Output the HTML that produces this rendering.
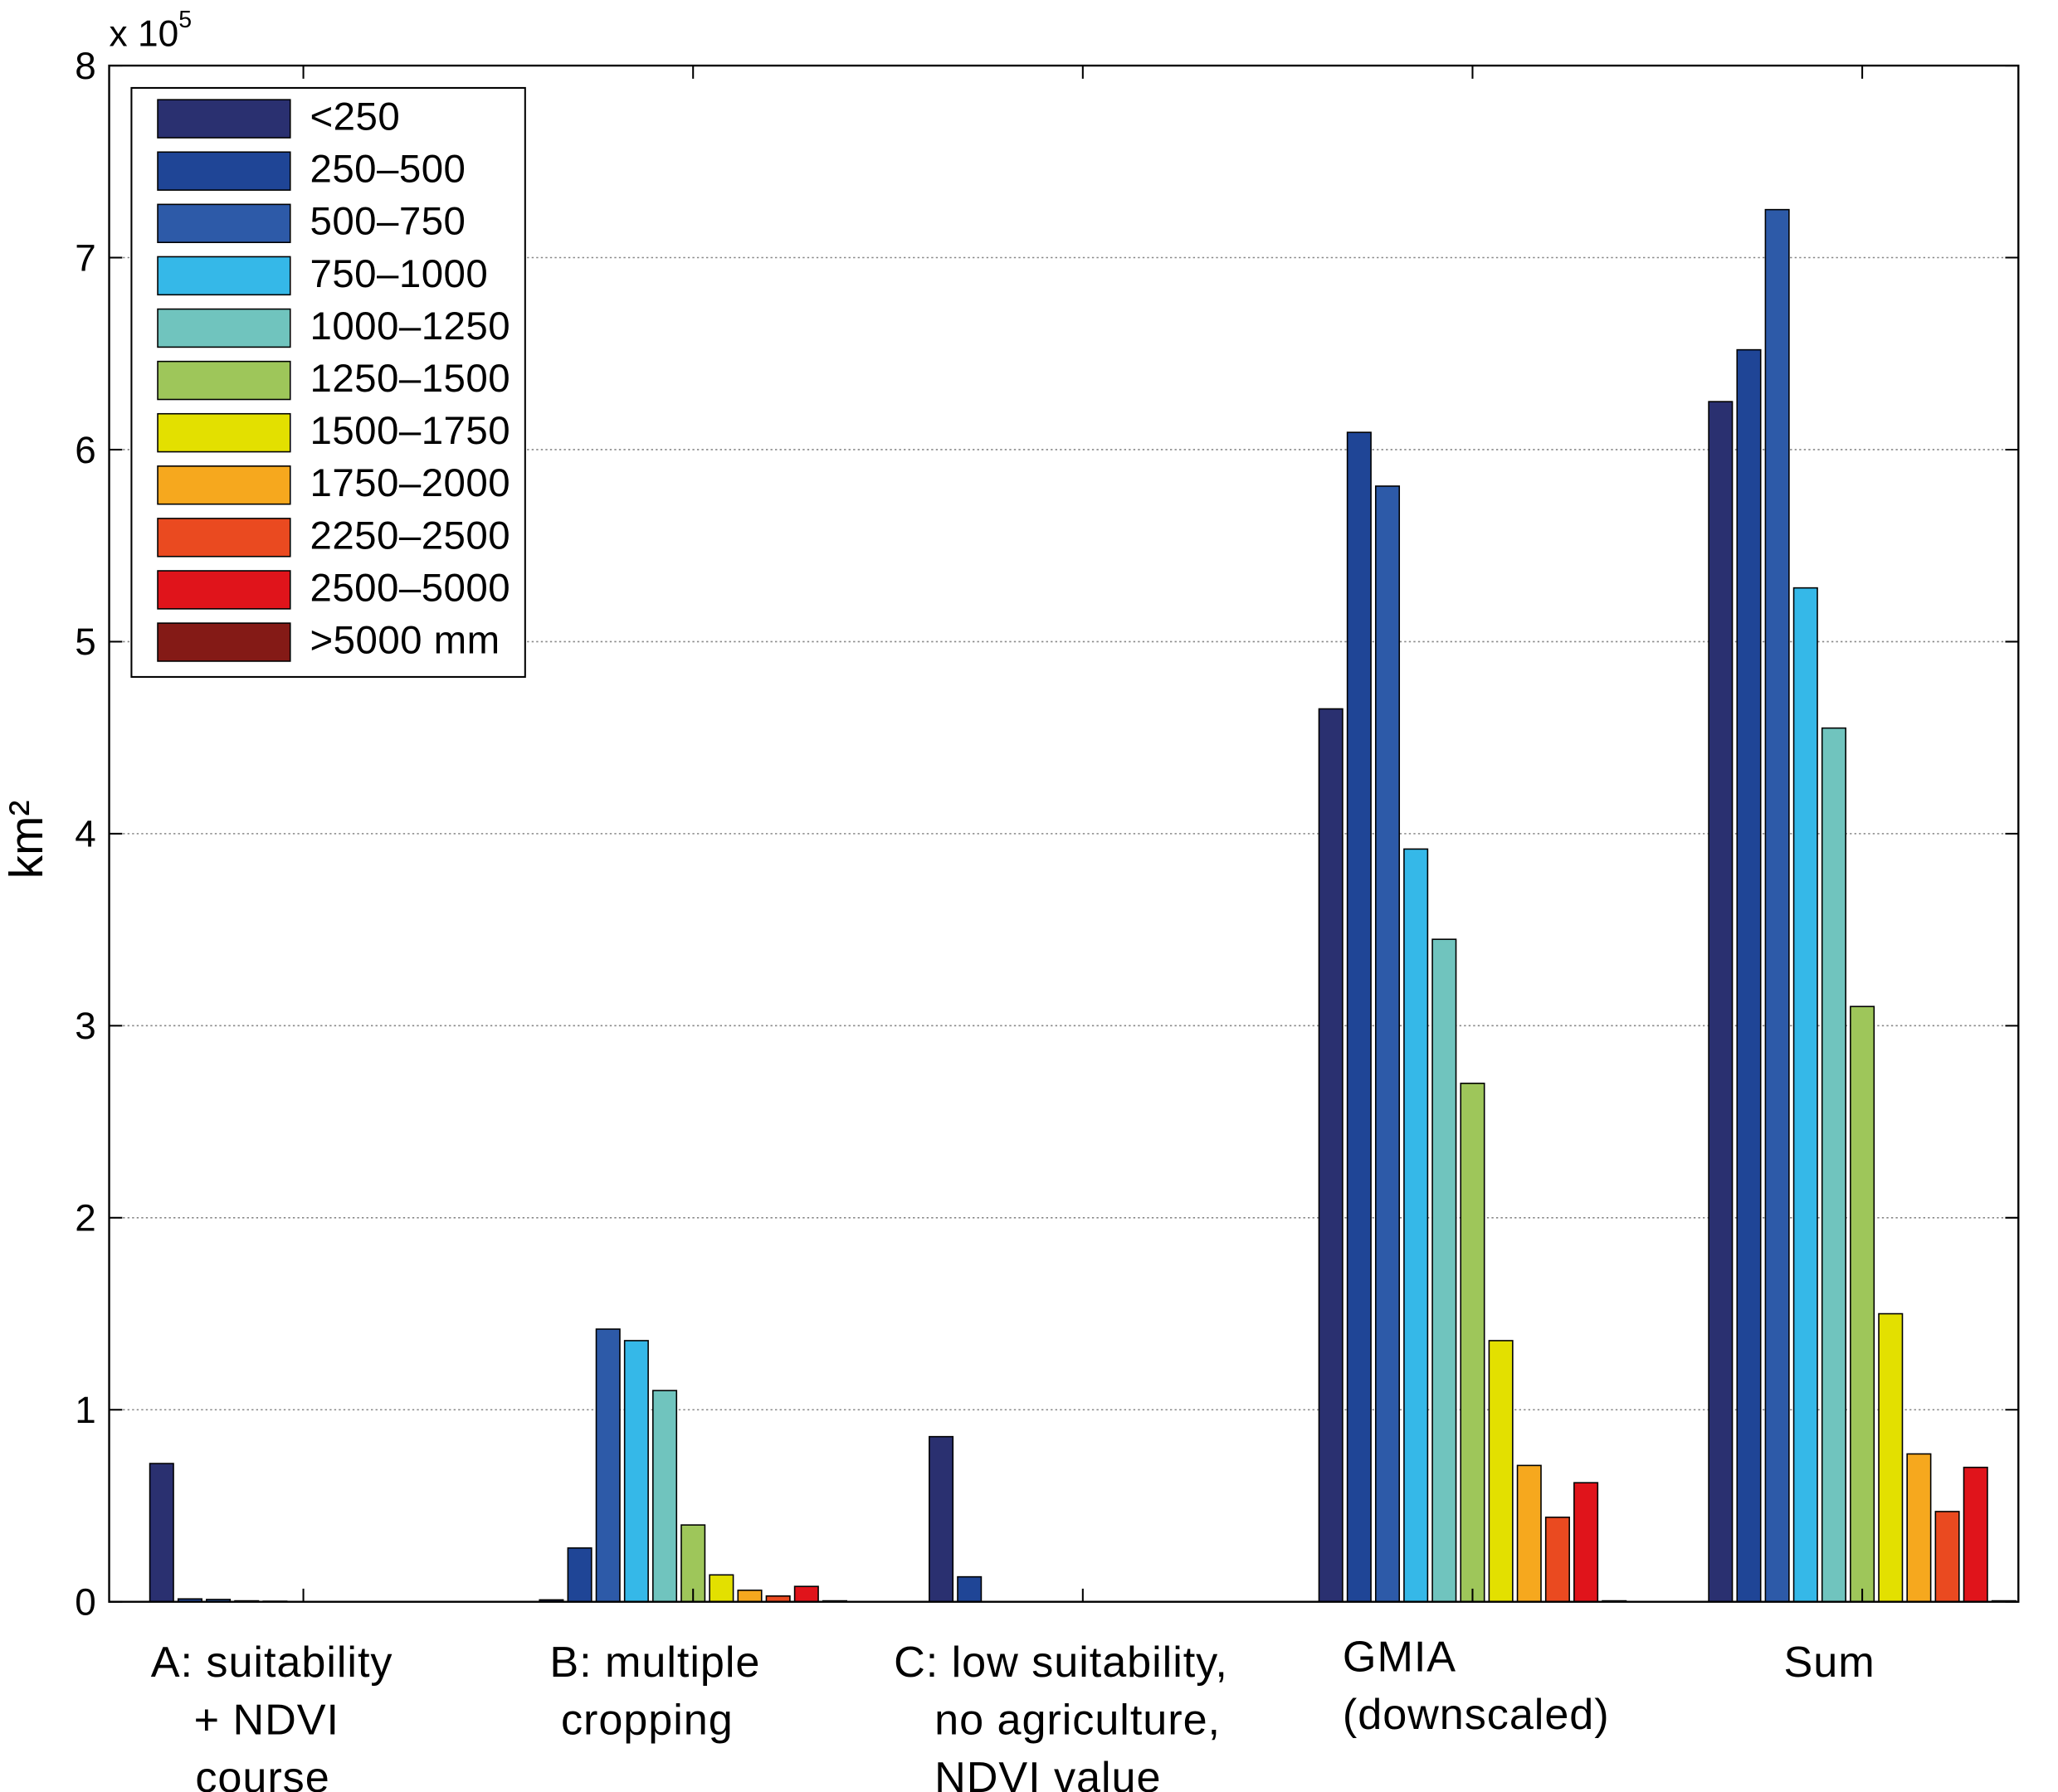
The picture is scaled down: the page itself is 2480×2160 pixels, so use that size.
<!DOCTYPE html>
<html><head><meta charset="utf-8"><style>
html,body{margin:0;padding:0;background:#fff;}
svg{display:block;}
text{font-family:"Liberation Sans",sans-serif;fill:#000;}
</style></head><body>
<svg id="chart" width="2480" height="2160" viewBox="0 0 1568 1366" xmlns="http://www.w3.org/2000/svg">
<rect x="0" y="0" width="1568" height="1366" fill="#fff"/>
<g id="grid"></g>
<g id="bars"></g>
<g id="axes"></g>
<g id="legend"></g>
</svg>
<script>
const categories = ["A", "B", "C", "GMIA", "Sum"];
const seriesNames = ["<250","250\u2013500","500\u2013750","750\u20131000","1000\u20131250","1250\u20131500","1500\u20131750","1750\u20132000","2250\u20132500","2500\u20135000",">5000 mm"];
const seriesColors = ["#2a3070","#1f4596","#2d5aa8","#35b8e8","#70c4be","#9ec65a","#e3e000","#f6a81e","#ea4a20","#e0141b","#841a16"];
const valuesA = [0.72,0.015,0.012,0.005,0.003,0,0,0,0,0,0];
const valuesB = [0.01,0.28,1.42,1.36,1.10,0.40,0.14,0.06,0.03,0.08,0.005];
const valuesC = [0.86,0.13,0,0,0,0,0,0,0,0,0];
const valuesGMIA = [4.65,6.09,5.81,3.92,3.45,2.70,1.36,0.71,0.44,0.62,0.005];
const valuesSum = [6.25,6.52,7.25,5.28,4.55,3.10,1.50,0.77,0.47,0.70,0.005];
const yTicks = [0,1,2,3,4,5,6,7,8];
const groupValues = [valuesA, valuesB, valuesC, valuesGMIA, valuesSum];

const NS="http://www.w3.org/2000/svg";
const L=83,R=1538,T=50,B=1221;
function yS(v){return B-(v/8)*(B-T);}
function xS(i){return 231+i*297;}
const barStep=21.6, barW=18;
function mk(tag,attrs,parent){const e=document.createElementNS(NS,tag);for(const k in attrs)e.setAttribute(k,attrs[k]);parent.appendChild(e);return e;}
const grid=document.getElementById('grid'),bars=document.getElementById('bars'),axes=document.getElementById('axes'),legend=document.getElementById('legend');

yTicks.forEach(t=>{
  const y=yS(t);
  if(t>0&&t<8){const g=mk('line',{x1:L,x2:R,y1:y,y2:y,stroke:'#888','stroke-width':1,'stroke-dasharray':'1.5,2'},grid);
  
  }
  mk('line',{x1:L,x2:L+10,y1:y,y2:y,stroke:'#000','stroke-width':1.3},axes);
  mk('line',{x1:R,x2:R-10,y1:y,y2:y,stroke:'#000','stroke-width':1.3},axes);
  const tx=mk('text',{x:73,y:y+10,'font-size':29,'text-anchor':'end'},axes);
  tx.textContent=t;
  
  
});
categories.forEach((c,i)=>{
  const x=xS(i);
  mk('line',{x1:x,x2:x,y1:B,y2:B-10,stroke:'#000','stroke-width':1.3},axes);
  mk('line',{x1:x,x2:x,y1:T,y2:T+10,stroke:'#000','stroke-width':1.3},axes);
  groupValues[i].forEach((v,j)=>{
    const cx=x+(j-5)*barStep;
    const r=mk('rect',{x:cx-barW/2,y:yS(v),width:barW,height:Math.max(0,B-yS(v)),fill:seriesColors[j],stroke:'#000','stroke-width':1},bars);
    
    
  });
});
const frame=mk('rect',{x:L,y:T,width:R-L,height:B-T,fill:'none',stroke:'#000','stroke-width':1.5},axes);



const lg=mk('rect',{x:100,y:67,width:300,height:449,fill:'#fff',stroke:'#000','stroke-width':1.3},legend);


seriesNames.forEach((n,j)=>{
  const y=90+j*39.9;
  const g=mk('g',{},legend);
  
  
  mk('rect',{x:120,y:y-14,width:101,height:29,fill:seriesColors[j],stroke:'#000','stroke-width':1},g);
  const t=mk('text',{x:236,y:y+9,'font-size':30,'letter-spacing':0.3},g);t.textContent=n;
});
</script>
<svg style="position:absolute;left:0;top:0" width="2480" height="2160" viewBox="0 0 1568 1366" xmlns="http://www.w3.org/2000/svg">
<text x="83" y="35" font-size="28">x 10<tspan dy="-14" font-size="18">5</tspan></text>
<text transform="translate(32,640) rotate(-90)" font-size="36" text-anchor="middle">km²</text>
<g font-size="33" letter-spacing="0.6">
<text x="207" y="1278" text-anchor="middle">A: suitability</text>
<text x="203" y="1322" text-anchor="middle">+ NDVI</text>
<text x="200" y="1366" text-anchor="middle">course</text>
<text x="499" y="1278" text-anchor="middle">B: multiple</text>
<text x="493" y="1322" text-anchor="middle">cropping</text>
<text x="681" y="1278">C: low suitability,</text>
<text x="712" y="1322">no agriculture,</text>
<text x="712" y="1366">NDVI value</text>
<text x="1023" y="1274">GMIA</text>
<text x="1023" y="1318">(downscaled)</text>
<text x="1394" y="1278" text-anchor="middle">Sum</text>
</g>
</svg>
</body></html>
